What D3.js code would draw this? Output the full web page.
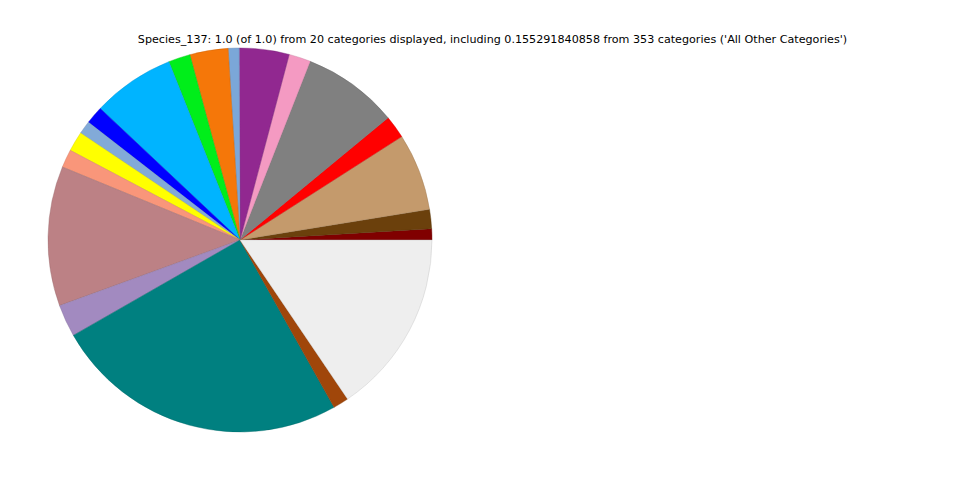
<!DOCTYPE html>
<html><head><meta charset="utf-8">
<script src="https://cdn.jsdelivr.net/npm/d3@7"></script>
<style>body{margin:0;background:#fff}svg{display:block}</style>
</head><body>
<svg id="c" width="960" height="480"></svg>
<script>
const categories = ["c1","c2","c3","c4","c5","c6","c7","c8","c9","c10","c11","c12","c13","c14","c15","c16","c17","c18","c19","All Other Categories"];
const values = [0.0094,0.0161,0.065,0.0192,0.0806,0.0183,0.0419,0.0092,0.0322,0.0183,0.0694,0.015,0.0111,0.0167,0.0153,0.1175,0.0272,0.2486,0.0131,0.155291840858];
const colors = ["#800000","#6b400c","#c49a6c","#ff0000","#808080","#f49ac2","#912890","#7ba7d8","#f57709","#00ee1a","#00b4ff","#0000ff","#82aad8","#ffff00","#f9967a","#bc8185","#a28ac0","#008080","#a0460a","#eeeeee"];
const title = "Species_137: 1.0 (of 1.0) from 20 categories displayed, including 0.155291840858 from 353 categories ('All Other Categories')";

const svg = d3.select("#c");
const cx = 240, cy = 240, r = 192;
const pie = d3.pie().sort(null).value(d => d).startAngle(Math.PI/2).endAngle(Math.PI/2 - 2*Math.PI);
const arc = d3.arc().innerRadius(0).outerRadius(r);
const color = d3.scaleOrdinal().domain(categories).range(colors);
const g = svg.append("g").attr("transform", `translate(${cx},${cy})`);
g.selectAll("path").data(pie(values)).join("path")
  .attr("d", arc)
  .attr("fill", (d,i) => color(categories[i]))
  .attr("stroke", (d,i) => d3.color(color(categories[i])).darker(0.6))
  .attr("stroke-width", 0.4);
svg.append("text").attr("x", 492.5).attr("y", 43).attr("text-anchor","middle")
  .attr("font-family","DejaVu Sans").attr("font-size", 11.15).attr("fill","#000").text(title);
</script>
</body></html>
